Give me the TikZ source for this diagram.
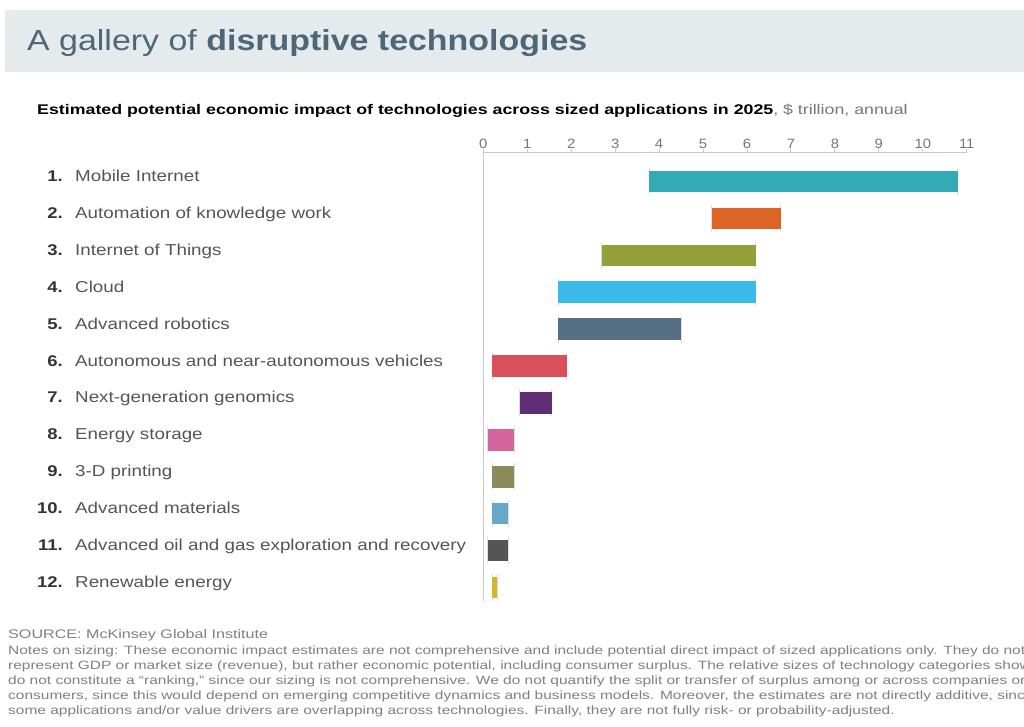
\documentclass[tikz,border=0pt]{standalone}
\usepackage{fontspec}
\setmainfont{Liberation Sans}
\newfontfamily\titlefont{Liberation Sans}[FakeStretch=1.17]
\newfontfamily\subfont{Liberation Sans}[FakeStretch=1.27]
\newfontfamily\labfont{Liberation Sans}[FakeStretch=1.19]
\newfontfamily\tickfont{Liberation Sans}[FakeStretch=1.1]
\newfontfamily\notefont{Liberation Sans}[FakeStretch=1.29]
\definecolor{banner}{HTML}{E5EAED}
\definecolor{titlec}{HTML}{4D6778}
\definecolor{subgray}{HTML}{777777}
\definecolor{labc}{HTML}{555555}
\definecolor{numc}{HTML}{333333}
\definecolor{axisc}{HTML}{C8C8C8}
\definecolor{endc}{HTML}{DDDDDD}
\definecolor{notec}{HTML}{808080}
\definecolor{c1}{HTML}{33AAB5}
\definecolor{c2}{HTML}{DC6424}
\definecolor{c3}{HTML}{93A03A}
\definecolor{c4}{HTML}{3BB9E8}
\definecolor{c5}{HTML}{557085}
\definecolor{c6}{HTML}{D9505A}
\definecolor{c7}{HTML}{5E2D73}
\definecolor{c8}{HTML}{D2679E}
\definecolor{c9}{HTML}{8A8A5A}
\definecolor{c10}{HTML}{66A7CB}
\definecolor{c11}{HTML}{555555}
\definecolor{c12}{HTML}{D4B52D}
\tikzset{
  numlab/.style={anchor=base east, inner sep=0pt, font=\labfont\fontsize{15.5}{15.5}\selectfont\bfseries, text=numc},
  techlab/.style={anchor=base west, inner sep=0pt, font=\labfont\fontsize{15.8}{15.8}\selectfont, text=labc},
  ticklab/.style={anchor=base, inner sep=0pt, font=\tickfont\fontsize{13.5}{13.5}\selectfont, text=subgray},
  noteline/.style={anchor=base west, inner sep=0pt, font=\notefont\fontsize{12}{12}\selectfont, text=notec},
  endmark/.style={draw=endc, line width=1pt},
  axisline/.style={draw=axisc, line width=1pt}
}
\begin{document}
\begin{tikzpicture}[x=1pt,y=-1pt]
\useasboundingbox (0,0) rectangle (1024,727);
\clip (0,0) rectangle (1024,727);
\fill[white] (0,0) rectangle (1024,727);
\fill[banner] (5,10) rectangle (1024,72);
\node[anchor=base west, inner sep=0pt, font=\titlefont\fontsize{29}{29}\selectfont, text=titlec] (title) at (27,51) {A gallery of \textbf{disruptive technologies}};
\node[anchor=base west, inner sep=0pt, font=\subfont\fontsize{14}{14}\selectfont, text=black] (sub) at (37,114.5) {\textbf{Estimated potential economic impact of technologies across sized applications in 2025}\textcolor{subgray}{, \$ trillion, annual}};
% axis
\draw[axisline] (483.3,153) -- (966.7,153);
\draw[axisline] (483.3,153) -- (483.3,601);
\foreach \i in {0,...,11}{
  \node[ticklab] (t\i) at ({483.3+43.95*\i},148.5) {\i};
  \draw[axisline] ({483.3+43.95*\i},149) -- ({483.3+43.95*\i},153);
}
% bars
\foreach \i/\a/\b/\c/\lab in {
  1/3.78/10.8/c1/Mobile Internet,
  2/5.2/6.77/c2/Automation of knowledge work,
  3/2.7/6.2/c3/Internet of Things,
  4/1.7/6.2/c4/Cloud,
  5/1.7/4.5/c5/Advanced robotics,
  6/0.2/1.9/c6/Autonomous and near-autonomous vehicles,
  7/0.83/1.56/c7/Next-generation genomics,
  8/0.1/0.7/c8/Energy storage,
  9/0.2/0.7/c9/3-D printing,
  10/0.2/0.57/c10/Advanced materials,
  11/0.1/0.57/c11/Advanced oil and gas exploration and recovery,
  12/0.2/0.32/c12/Renewable energy}{
  \pgfmathsetmacro{\yc}{181.5+36.9*(\i-1)}
  \pgfmathsetmacro{\xa}{483.3+43.95*\a}
  \pgfmathsetmacro{\xb}{483.3+43.95*\b}
  \draw[endmark] (\xa,\yc-13.5) -- (\xa,\yc+13.5);
  \draw[endmark] (\xb,\yc-13.5) -- (\xb,\yc+13.5);
  \fill[\c] (\xa,\yc-10.8) rectangle (\xb,\yc+10.8);
  \node[numlab] (n\i) at (63,\yc) {\i.};
  \node[techlab] (l\i) at (75,\yc) {\lab};
}
% notes
\node[anchor=base west, inner sep=0pt, font=\notefont\fontsize{12.5}{12.5}\selectfont, text=notec] (src) at (8,638.5) {SOURCE: McKinsey Global Institute};
\node[noteline] (nl1) at (8,654.5) {Notes on sizing: These economic impact estimates are not comprehensive and include potential direct impact of sized applications only. They do not};
\node[noteline] (nl2) at (8,669.4) {represent GDP or market size (revenue), but rather economic potential, including consumer surplus. The relative sizes of technology categories shown};
\node[noteline] (nl3) at (8,684.3) {do not constitute a “ranking,” since our sizing is not comprehensive. We do not quantify the split or transfer of surplus among or across companies or};
\node[noteline] (nl4) at (8,699.2) {consumers, since this would depend on emerging competitive dynamics and business models. Moreover, the estimates are not directly additive, since};
\node[noteline] (nl5) at (8,714.1) {some applications and/or value drivers are overlapping across technologies. Finally, they are not fully risk- or probability-adjusted.};
\end{tikzpicture}
\end{document}
